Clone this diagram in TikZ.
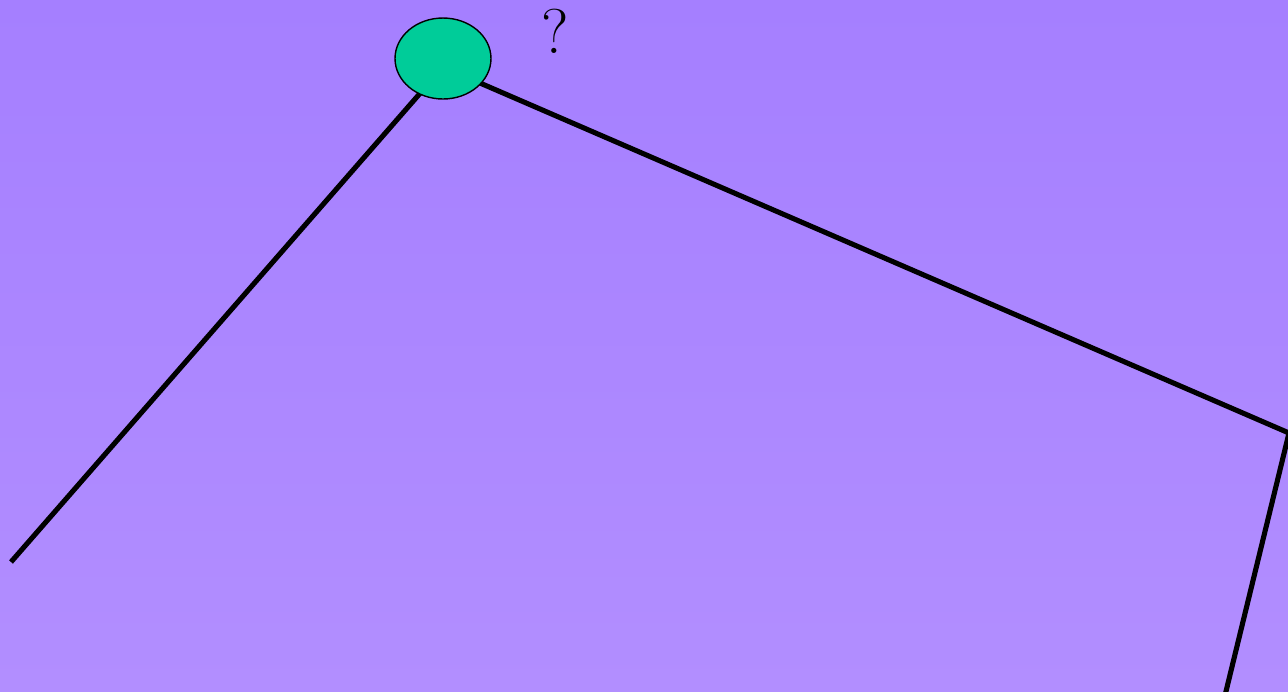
\documentclass[tikz,border=0pt]{standalone}
\usetikzlibrary{shapes.geometric}
\definecolor{SkyTop}{HTML}{A57FFF}
\definecolor{SkyBottom}{HTML}{B28EFF}
\definecolor{Ball}{HTML}{00CC99}

\tikzset{
  rope/.style={black,line width=2.9pt},
  ballnode/.style={ellipse,fill=Ball,draw=black,line width=0.8pt,inner sep=0pt,minimum width=1.92cm,minimum height=1.62cm}
}

\begin{document}
\begin{tikzpicture}[x=0.02cm,y=-0.02cm]
\useasboundingbox (0,0) rectangle (1288,691);
\shade[top color=SkyTop,bottom color=SkyBottom] (0,0) rectangle (1288,691);
\clip (0,0) rectangle (1288,691);
\coordinate (hub) at (443,67);
\coordinate (leftend) at (11,562);
\coordinate (corner) at (1289,433);
\coordinate (bottomend) at (1219,720);
% ropes first, the ball sits on top of them
\draw[rope] (hub) -- (leftend);
\draw[rope,line join=miter] (hub) -- (corner) -- (bottomend);
\node[ballnode] (ball) at (443,58.5) {};
\node[font=\fontsize{36}{40}\selectfont] (query) at (555,31) {?};
\end{tikzpicture}
\end{document}
